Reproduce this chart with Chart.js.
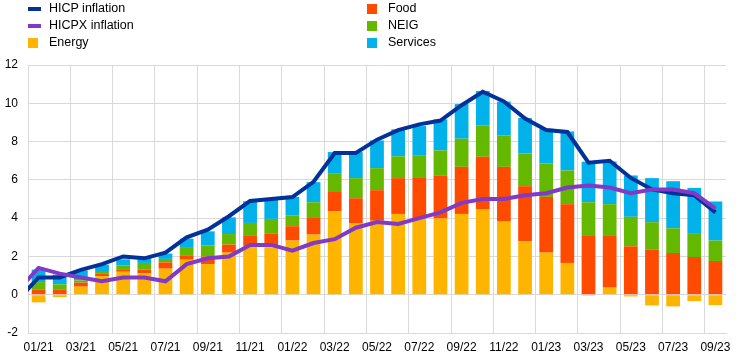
<!DOCTYPE html>
<html>
<head>
<meta charset="utf-8">
<script src="https://cdn.jsdelivr.net/npm/chart.js@4"></script>
<style>
  body { margin: 0; background: #fff; }
  #wrap { position: relative; width: 743px; height: 361px; }
  #legend { position: absolute; left: 0; top: 0; width: 743px; height: 55px; font-family: "Liberation Sans", Arial, sans-serif; font-size: 12.5px; color: #000; }
  .item { position: absolute; height: 17px; line-height: 17px; white-space: nowrap; }
  .sw { position: absolute; }
  .txt { position: absolute; left: 21px; top: 0; }
</style>
</head>
<body>
<div id="wrap">
  <canvas id="chart" width="743" height="361"></canvas>
  <div id="legend"></div>
</div>
<script>
let months = ["01/21","02/21","03/21","04/21","05/21","06/21","07/21","08/21","09/21","10/21","11/21","12/21",
              "01/22","02/22","03/22","04/22","05/22","06/22","07/22","08/22","09/22","10/22","11/22","12/22",
              "01/23","02/23","03/23","04/23","05/23","06/23","07/23","08/23","09/23"];

// contributions in percentage points
let energy   = [-0.40,-0.12,0.42,0.97,1.20,1.13,1.36,1.83,1.60,2.20,2.55,2.48,
                2.83,3.14,4.36,3.72,3.86,4.22,4.00,3.98,4.22,4.45,3.82,2.79,
                2.20,1.66,-0.05,0.37,-0.09,-0.56,-0.61,-0.33,-0.54];
let food     = [0.28,0.28,0.21,0.12,0.13,0.18,0.33,0.23,0.40,0.42,0.52,0.70,
                0.75,0.91,1.05,1.32,1.60,1.87,2.14,2.23,2.46,2.76,2.86,2.88,
                2.91,3.07,3.11,2.74,2.53,2.37,2.18,1.97,1.76];
let neig     = [0.38,0.26,0.12,0.10,0.19,0.35,0.18,0.43,0.58,0.55,0.68,0.78,
                0.57,0.78,0.94,1.05,1.15,1.14,1.15,1.33,1.47,1.62,1.63,1.71,
                1.75,1.76,1.72,1.62,1.54,1.42,1.29,1.21,1.07];
let services = [0.65,0.51,0.52,0.38,0.33,0.26,0.28,0.44,0.73,0.87,1.13,1.00,
                0.96,1.05,1.10,1.36,1.45,1.41,1.52,1.62,1.81,1.81,1.78,1.85,
                1.81,2.04,2.12,2.23,2.16,2.30,2.46,2.40,2.04];

// annual rates, with the 12/20 value so the line enters from the left edge
let hicpPrev = -0.3;
let hicpxPrev = 0.2;
let hicp  = [0.9,0.9,1.3,1.6,2.0,1.9,2.2,3.0,3.4,4.1,4.9,5.0,
             5.1,5.9,7.4,7.4,8.1,8.6,8.9,9.1,9.9,10.6,10.1,9.2,
             8.6,8.5,6.9,7.0,6.1,5.5,5.3,5.2,4.3];
let hicpx = [1.4,1.1,0.9,0.7,0.9,0.9,0.7,1.6,1.9,2.0,2.6,2.6,
             2.3,2.7,2.9,3.5,3.8,3.7,4.0,4.3,4.8,5.0,5.0,5.2,
             5.3,5.6,5.7,5.6,5.3,5.5,5.5,5.3,4.5];

let yTicks = [-2,0,2,4,6,8,10,12];

const colors = {
    hicp: "#003299",
    hicpx: "#8139c6",
    energy: "#ffb400",
    food: "#ff4b00",
    neig: "#65b800",
    services: "#00b1ea"
};

function toPoints(prev, arr) {
    let pts = [{x: -1, y: prev}];
    arr.forEach((v, i) => pts.push({x: i, y: v}));
    return pts;
}

// legend, two columns
let legendItems = [
    {label: "HICP inflation", color: colors.hicp, type: "line", col: 0, row: 0},
    {label: "HICPX inflation", color: colors.hicpx, type: "line", col: 0, row: 1},
    {label: "Energy", color: colors.energy, type: "box", col: 0, row: 2},
    {label: "Food", color: colors.food, type: "box", col: 1, row: 0},
    {label: "NEIG", color: colors.neig, type: "box", col: 1, row: 1},
    {label: "Services", color: colors.services, type: "box", col: 1, row: 2}
];
let legend = document.getElementById("legend");
legendItems.forEach(item => {
    let left = item.col === 0 ? 28 : 367;
    let top = 0 + item.row * 17;
    let sw = item.type === "line"
        ? `<span class="sw" style="left:0;top:7px;width:13px;height:4px;background:${item.color}"></span>`
        : `<span class="sw" style="left:0;top:4px;width:10px;height:10px;background:${item.color}"></span>`;
    legend.innerHTML += `<div class="item" style="left:${left}px;top:${top}px">${sw}<span class="txt">${item.label}</span></div>`;
});

const gridColor = "#d9d9d9";
const tickFont = {family: "'Liberation Sans', Arial, sans-serif", size: 12};

const ctx = document.getElementById("chart").getContext("2d");
new Chart(ctx, {
    type: "bar",
    data: {
        labels: months,
        datasets: [
            {type: "line", label: "HICPX inflation", data: toPoints(hicpxPrev, hicpx), xAxisID: "xl", stack: "hicpx",
             borderColor: colors.hicpx, borderWidth: 4, pointRadius: 0, tension: 0, order: 0, clip: 0},
            {type: "line", label: "HICP inflation", data: toPoints(hicpPrev, hicp), xAxisID: "xl", stack: "hicp",
             borderColor: colors.hicp, borderWidth: 4, pointRadius: 0, tension: 0, order: 1, clip: 0},
            {label: "Energy", data: energy, backgroundColor: colors.energy, order: 2, stack: "c"},
            {label: "Food", data: food, backgroundColor: colors.food, order: 2, stack: "c"},
            {label: "NEIG", data: neig, backgroundColor: colors.neig, order: 2, stack: "c"},
            {label: "Services", data: services, backgroundColor: colors.services, order: 2, stack: "c"}
        ]
    },
    options: {
        responsive: false,
        animation: false,
        layout: {padding: {left: 4, right: 17, top: 65, bottom: 6}},
        datasets: {bar: {grouped: false, categoryPercentage: 1, barPercentage: 0.65}},
        plugins: {legend: {display: false}, tooltip: {enabled: false}},
        scales: {
            x: {
                stacked: true,
                offset: true,
                afterFit: axis => { axis.paddingLeft = 0; axis.paddingRight = 0; axis.height = 22; },
                grid: {
                    offset: true,
                    drawTicks: false,
                    color: c => (c.index % 2 === 0 ? gridColor : "rgba(0,0,0,0)")
                },
                border: {color: gridColor},
                ticks: {
                    autoSkip: false,
                    maxRotation: 0,
                    padding: 7,
                    color: "#000",
                    font: tickFont,
                    callback: function (v, i) { return i % 2 === 0 ? months[i] : ""; }
                }
            },
            xl: {
                type: "linear",
                display: false,
                offset: false,
                grid: {offset: false},
                min: -0.5,
                max: months.length - 0.5
            },
            y: {
                stacked: true,
                min: yTicks[0],
                max: yTicks[yTicks.length - 1],
                afterBuildTicks: axis => { axis.ticks = yTicks.map(v => ({value: v})); },
                afterFit: axis => { axis.paddingTop = 0; axis.paddingBottom = 0; axis.width = 24; },
                grid: {color: gridColor, drawTicks: false},
                border: {color: gridColor},
                ticks: {padding: 10, color: "#000", font: tickFont}
            }
        }
    }
});
</script>
</body>
</html>
